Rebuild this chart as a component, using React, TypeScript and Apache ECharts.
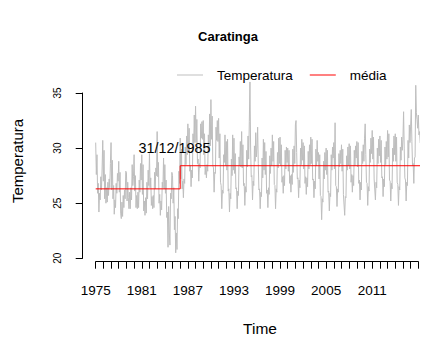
import React, { useEffect, useRef } from "react";
import * as echarts from "echarts";

const startYear = 1975;
// monthly values, Jan 1975 .. May 2017 (one row per year)
const temperatura: number[] = [
  30.5, 27.6, 29.4, 25.9, 26.8, 24.2, 25.9, 25.3, 27.4, 26.2, 28.1, 30.7,
  27.0, 29.8, 25.4, 27.6, 25.0, 26.4, 25.1, 26.9, 25.7, 27.2, 26.4, 28.6,
  30.5, 26.2, 28.9, 25.4, 26.6, 24.0, 25.3, 24.6, 26.8, 25.9, 27.7, 27.0,
  28.8, 26.0, 27.8, 24.1, 23.6, 25.1, 23.8, 25.7, 24.6, 26.2, 25.4, 27.9,
  27.8, 25.2, 26.9, 25.5, 24.5, 26.0, 24.5, 26.4, 25.3, 28.5, 26.6, 27.4,
  29.4, 26.1, 27.5, 24.6, 25.7, 24.5, 26.0, 24.6, 27.1, 26.0, 28.6, 27.1,
  29.4, 25.8, 28.5, 24.3, 25.2, 23.9, 25.5, 24.1, 26.9, 25.4, 28.0, 26.6,
  29.5, 26.4, 27.3, 24.8, 25.6, 24.5, 25.7, 24.6, 27.8, 26.3, 28.2, 27.5,
  31.5, 27.4, 28.7, 25.0, 25.8, 23.9, 25.2, 24.4, 26.9, 26.4, 29.1, 26.3,
  28.5, 25.9, 27.1, 23.7, 24.2, 21.0, 24.7, 22.3, 21.2, 25.9, 25.4, 27.8,
  27.5, 25.0, 26.4, 22.6, 23.8, 20.5, 22.3, 20.8, 24.5, 23.6, 27.9, 26.8,
  30.9, 27.2, 29.9, 26.3, 27.0, 25.5, 27.2, 26.8, 30.1, 28.5, 31.1, 29.4,
  32.2, 29.6, 31.8, 27.9, 28.4, 26.5, 28.0, 27.3, 31.3, 30.0, 33.0, 30.5,
  33.8, 30.5, 32.6, 28.6, 29.0, 27.0, 28.6, 28.2, 32.2, 30.9, 32.4, 30.8,
  32.5, 29.4, 31.3, 27.6, 28.3, 27.3, 28.5, 27.9, 31.2, 29.6, 33.1, 30.2,
  34.4, 30.8, 32.9, 28.4, 28.2, 26.0, 27.8, 27.7, 31.9, 30.7, 32.5, 30.6,
  32.7, 29.1, 31.3, 26.9, 26.6, 24.5, 26.2, 25.9, 29.4, 28.7, 31.2, 28.4,
  30.6, 28.0, 30.8, 26.1, 26.3, 24.2, 25.9, 25.4, 29.0, 27.5, 31.2, 28.0,
  30.9, 27.7, 29.5, 26.3, 26.4, 24.5, 26.1, 25.7, 29.2, 28.4, 30.6, 28.3,
  31.5, 28.2, 30.3, 26.6, 26.8, 24.8, 26.5, 26.0, 29.8, 28.3, 31.1, 29.0,
  32.4, 36.0, 30.1, 27.4, 27.5, 25.3, 27.0, 26.6, 30.2, 28.8, 31.4, 29.2,
  30.1, 31.9, 28.6, 26.2, 26.3, 24.5, 26.0, 25.6, 29.1, 27.3, 30.8, 28.0,
  30.5, 27.6, 29.7, 25.9, 26.2, 24.6, 26.4, 25.8, 29.3, 27.7, 30.0, 28.4,
  31.2, 28.8, 30.6, 26.7, 26.6, 24.5, 26.3, 26.0, 29.6, 28.2, 30.9, 28.6,
  31.0, 28.4, 30.3, 26.9, 27.4, 25.9, 27.5, 26.6, 29.8, 28.1, 30.1, 28.7,
  30.0, 27.9, 29.8, 26.8, 27.5, 26.0, 27.6, 26.7, 29.9, 27.8, 30.2, 28.6,
  32.1, 32.5, 29.6, 27.2, 27.3, 25.5, 27.1, 26.4, 30.0, 28.5, 30.8, 28.9,
  30.5, 28.1, 30.2, 26.8, 27.4, 25.8, 27.3, 26.5, 29.7, 28.1, 30.3, 28.5,
  31.0, 28.6, 30.8, 27.1, 27.2, 25.5, 27.0, 26.3, 29.9, 28.4, 30.7, 28.8,
  29.6, 27.2, 29.4, 25.7, 25.6, 23.5, 25.4, 25.1, 28.8, 27.2, 29.6, 28.0,
  30.0, 27.6, 29.8, 26.0, 26.1, 24.3, 25.9, 25.6, 29.4, 28.0, 30.1, 29.1,
  30.5, 28.1, 32.3, 26.6, 26.5, 24.7, 26.3, 26.0, 29.5, 28.3, 29.8, 28.6,
  30.3, 27.9, 29.9, 25.8, 25.8, 23.9, 25.6, 25.5, 29.3, 28.0, 30.1, 28.4,
  30.4, 28.1, 30.2, 26.9, 27.6, 26.0, 27.5, 26.6, 29.8, 28.4, 30.2, 29.1,
  30.6, 28.3, 30.5, 26.8, 27.1, 25.3, 26.9, 26.2, 29.7, 28.6, 30.3, 28.8,
  30.9, 32.2, 29.4, 26.9, 26.8, 24.8, 26.5, 26.1, 29.9, 28.7, 30.9, 29.5,
  31.6, 29.0, 31.0, 27.2, 27.2, 25.3, 26.9, 26.4, 30.0, 28.6, 30.8, 29.3,
  31.1, 28.7, 30.7, 27.3, 27.4, 25.6, 27.2, 26.5, 30.1, 28.5, 30.6, 29.0,
  31.6, 29.2, 31.3, 27.1, 27.0, 25.2, 26.8, 26.3, 30.0, 28.8, 31.1, 29.4,
  31.3, 28.8, 31.0, 26.9, 26.7, 24.8, 26.5, 26.2, 30.1, 28.9, 31.0, 29.8,
  30.8, 33.3, 30.0, 27.3, 27.1, 25.2, 26.9, 26.6, 30.7, 29.1, 32.1, 30.5,
  32.0, 33.5, 30.6, 28.4, 28.6, 26.8, 29.1, 29.2, 35.7, 33.2, 32.6, 31.8,
  33.0, 31.2, 31.5, 30.5, 30.6,
];

const breakYear = 1986;
const meanBefore = 26.3;
const meanAfter = 28.4;
const breakLabel = "31/12/1985";
const breakLabelAt = [1985.25, 30];
const xTickLabels = ["1975", "1981", "1987", "1993", "1999", "2005", "2011"];
const yMin = 20;
const yMax = 35;
const yStep = 5;
const xMin = 1975;
const xMax = 2017;

const FONT = "'Liberation Sans', Arial, Helvetica, sans-serif";

export default function App() {
  const ref = useRef<HTMLDivElement>(null);
  useEffect(() => {
    const chart = echarts.init(ref.current!, null, { renderer: "svg" });
    const tempData = temperatura.map((v, i) => [startYear + i / 12, v]);
    const endX = startYear + (temperatura.length - 1) / 12;
    const meanData = [
      [startYear, meanBefore],
      [breakYear, meanBefore],
      [breakYear, meanAfter],
      [endX, meanAfter],
    ];
    chart.setOption({
      animation: false,
      backgroundColor: "#ffffff",
      textStyle: { fontFamily: FONT },
      grid: { left: 95.7, right: 3.7, top: 93, bottom: 79.7 },
      legend: {
        data: ["Temperatura", "média"],
        left: 177,
        top: 68,
        padding: 0,
        icon: "rect",
        itemWidth: 26,
        itemHeight: 1,
        itemGap: 17,
        textStyle: { fontSize: 13.5, color: "#000", fontFamily: FONT, padding: [0, 0, 0, 9] },
      },
      graphic: [
        {
          type: "text",
          x: 228,
          y: 36,
          style: { text: "Caratinga", font: `bold 13px ${FONT}`, fill: "#000", align: "center", verticalAlign: "middle" },
        },
        {
          type: "text",
          x: 260,
          y: 328,
          style: { text: "Time", font: `15.5px ${FONT}`, fill: "#000", align: "center", verticalAlign: "middle" },
        },
        {
          type: "text",
          x: 17,
          y: 161,
          rotation: Math.PI / 2,
          style: { text: "Temperatura", font: `15px ${FONT}`, fill: "#000", align: "center", verticalAlign: "middle" },
        },
      ],
      xAxis: {
        type: "value",
        min: xMin,
        max: xMax,
        interval: 1,
        offset: 3.4,
        splitLine: { show: false },
        axisLine: { show: true, lineStyle: { color: "#000", width: 1 } },
        axisTick: { show: true, length: 7, lineStyle: { color: "#000", width: 1 } },
        axisLabel: {
          fontSize: 13.5,
          color: "#000",
          fontFamily: FONT,
          margin: 22,
          showMinLabel: true,
          showMaxLabel: true,
          formatter: (v: number) => (xTickLabels.includes(String(Math.round(v))) ? String(Math.round(v)) : ""),
        },
      },
      yAxis: {
        type: "value",
        min: yMin,
        max: yMax,
        interval: yStep,
        offset: 13,
        splitLine: { show: false },
        axisLine: { show: true, lineStyle: { color: "#000", width: 1 } },
        axisTick: { show: true, length: 7, lineStyle: { color: "#000", width: 1 } },
        axisLabel: { fontSize: 10, color: "#000", fontFamily: FONT, rotate: 90, margin: 20 },
      },
      series: [
        {
          name: "Temperatura",
          type: "line",
          data: tempData,
          showSymbol: false,
          symbol: "none",
          clip: false,
          color: "#bebebe",
          lineStyle: { color: "#bebebe", width: 1 },
          z: 2,
        },
        {
          name: "média",
          type: "line",
          data: meanData,
          showSymbol: false,
          symbol: "none",
          clip: false,
          color: "#ff0000",
          lineStyle: { color: "#ff0000", width: 1 },
          z: 3,
          markPoint: {
            symbol: "circle",
            symbolSize: 0,
            data: [{ coord: breakLabelAt, value: breakLabel }],
            label: {
              show: true,
              position: "inside",
              formatter: breakLabel,
              fontSize: 14.4,
              color: "#000",
              fontFamily: FONT,
            },
          },
        },
      ],
    });
    return () => chart.dispose();
  }, []);
  return (
    <div
      ref={ref}
      style={{ position: "fixed", left: 0, top: 0, width: 422, height: 338, background: "#fff" }}
    />
  );
}
